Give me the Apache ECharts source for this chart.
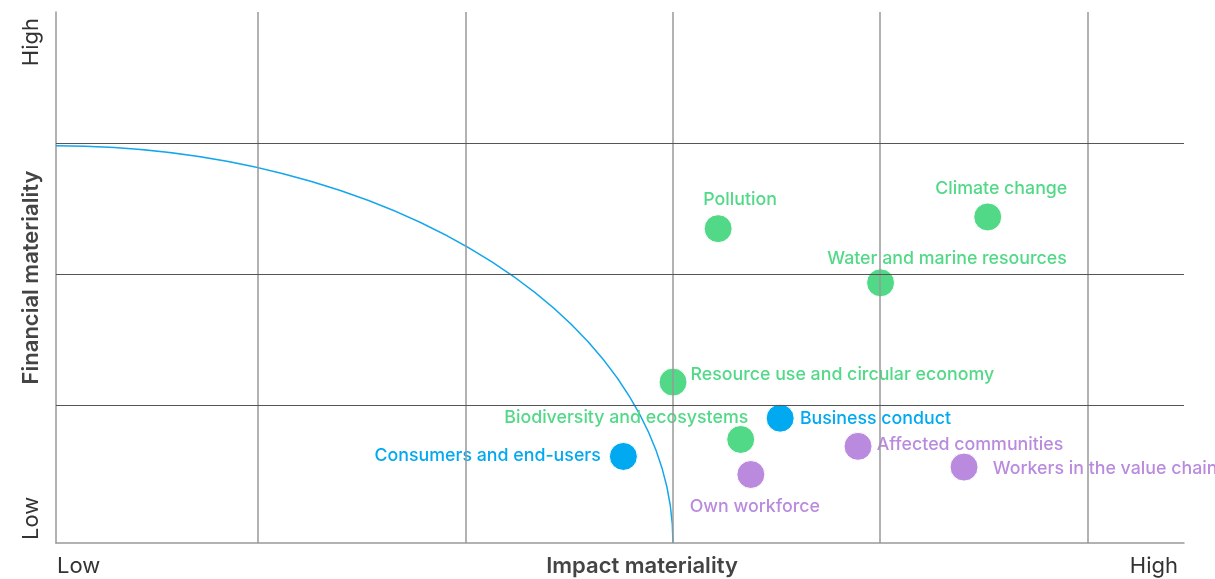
<!DOCTYPE html>
<html>
<head>
<meta charset="utf-8">
<script src="https://cdn.jsdelivr.net/npm/echarts@6/dist/echarts.min.js"></script>
<style>
    html, body {margin: 0; padding: 0; background: #fff;}
    #chart_id {width: 1215px; height: 579px;}
</style>
</head>
<body>
<div id="chart_id"></div>
<script>
//主题数据（0-100 的相对刻度）
var topics = ["Pollution", "Climate change", "Water and marine resources", "Resource use and circular economy",
    "Biodiversity and ecosystems", "Business conduct", "Consumers and end-users", "Own workforce",
    "Affected communities", "Workers in the value chain"];
var impactValues = [58.7, 82.6, 73.1, 54.7, 60.7, 64.2, 50.3, 61.6, 71.1, 80.5];
var financialValues = [59.2, 61.4, 49.0, 30.3, 19.5, 23.5, 16.3, 12.9, 18.2, 14.3];
var topicGroups = ["env", "env", "env", "env", "env", "gov", "gov", "soc", "soc", "soc"];
//网格线位置
var xGridLines = [17.9, 36.3, 54.7, 73.0, 91.5];
var yGridLines = [26.0, 50.7, 75.3];
//阈值曲线（四分之一椭圆的两个半径）
var thresholdRadius = [54.7, 74.8];
var axisTickLabels = ["Low", "High"];

var groupColors = {env: "#52d987", gov: "#00a9f0", soc: "#b98ade"};
//标签位置：[对齐方式, x偏移, y偏移]
var labelPlaces = {
    "Pollution": ["center", 22, -28.5],
    "Climate change": ["center", 13.5, -28.5],
    "Water and marine resources": ["center", 66.5, -24.4],
    "Resource use and circular economy": ["left", 17.4, -7.5],
    "Biodiversity and ecosystems": ["right", 7.6, -21.5],
    "Business conduct": ["left", 19.7, 0.5],
    "Consumers and end-users": ["right", -22.6, -0.5],
    "Own workforce": ["center", 4, 32.3],
    "Affected communities": ["left", 18.7, -2],
    "Workers in the value chain": ["left", 28.7, 2]
};

window.onload = function () {
    initChart();
};

function buildPoints() {
    var points = [];
    for (var i = 0, lens = topics.length; i < lens; i++) {
        var place = labelPlaces[topics[i]];
        var color = groupColors[topicGroups[i]];
        points.push({
            name: topics[i],
            value: [impactValues[i], financialValues[i]],
            itemStyle: {color: color},
            label: {
                show: true,
                position: "inside",
                align: place[0],
                verticalAlign: "middle",
                offset: [place[1], place[2]],
                color: color
            }
        });
    }
    return points;
}

function tickName(v) {
    return v === 0 ? axisTickLabels[0] : axisTickLabels[1];
}

function initChart() {
    var myChart = echarts.init(document.getElementById("chart_id"));
    var option = {
        animation: false,
        textStyle: {fontFamily: "Inter"},
        grid: {left: 56, right: 31, top: 12, bottom: 36, containLabel: false, outerBoundsMode: "none"},
        xAxis: {
            type: "value",
            min: 0, max: 100, interval: 100,
            name: "Impact materiality",
            nameLocation: "middle",
            nameMoveOverlap: false,
            nameGap: 12,
            nameTextStyle: {fontSize: 22, fontWeight: 600, color: "#444", padding: [0, 0, 0, 44]},
            axisLine: {show: true, lineStyle: {color: "#999", width: 1.5}},
            axisTick: {show: false},
            splitLine: {show: false},
            axisLabel: {
                margin: 12, fontSize: 22, color: "#333", padding: [0, 6, 0, 1],
                alignMinLabel: "left", alignMaxLabel: "right",
                formatter: tickName
            }
        },
        yAxis: {
            type: "value",
            min: 0, max: 100, interval: 100,
            name: "Financial materiality",
            nameLocation: "middle",
            nameRotate: 90,
            nameMoveOverlap: false,
            nameGap: 14,
            nameTextStyle: {fontSize: 22, fontWeight: 600, color: "#444"},
            axisLine: {show: true, lineStyle: {color: "#999", width: 1.5}},
            axisTick: {show: false},
            splitLine: {show: false},
            axisLabel: {
                rotate: 90, margin: 14, fontSize: 22, color: "#333", padding: [0, 6, 0, 3],
                alignMinLabel: "left", alignMaxLabel: "right",
                formatter: tickName
            }
        },
        series: [
            {
                type: "scatter",
                data: [],
                silent: true,
                markLine: {
                    silent: true, symbol: "none", label: {show: false},
                    lineStyle: {type: "solid", color: "#999", width: 1.5},
                    data: xGridLines.map(function (v) { return {xAxis: v}; })
                }
            },
            {
                type: "scatter",
                data: [],
                silent: true,
                markLine: {
                    silent: true, symbol: "none", label: {show: false},
                    lineStyle: {type: "solid", color: "#555", width: 1.2},
                    data: yGridLines.map(function (v) { return {yAxis: v}; })
                }
            },
            {
                type: "custom",
                silent: true,
                data: [thresholdRadius],
                renderItem: function (params, api) {
                    var o = api.coord([0, 0]);
                    var px = api.coord([api.value(0), 0]);
                    var py = api.coord([0, api.value(1)]);
                    var rx = px[0] - o[0], ry = o[1] - py[1];
                    return {
                        type: "path",
                        shape: {pathData: "M" + o[0] + " " + py[1] + " A" + rx + " " + ry + " 0 0 1 " + px[0] + " " + o[1]},
                        style: {fill: "none", stroke: "#13a6ec", lineWidth: 1.5}
                    };
                }
            },
            {
                type: "scatter",
                symbolSize: 28,
                itemStyle: {borderColor: "#fff", borderWidth: 1, opacity: 1},
                label: {fontSize: 17.8, fontWeight: 500, fontFamily: "Inter", formatter: "{b}"},
                data: buildPoints()
            }
        ]
    };
    myChart.setOption(option, true);
}
</script>
</body>
</html>
